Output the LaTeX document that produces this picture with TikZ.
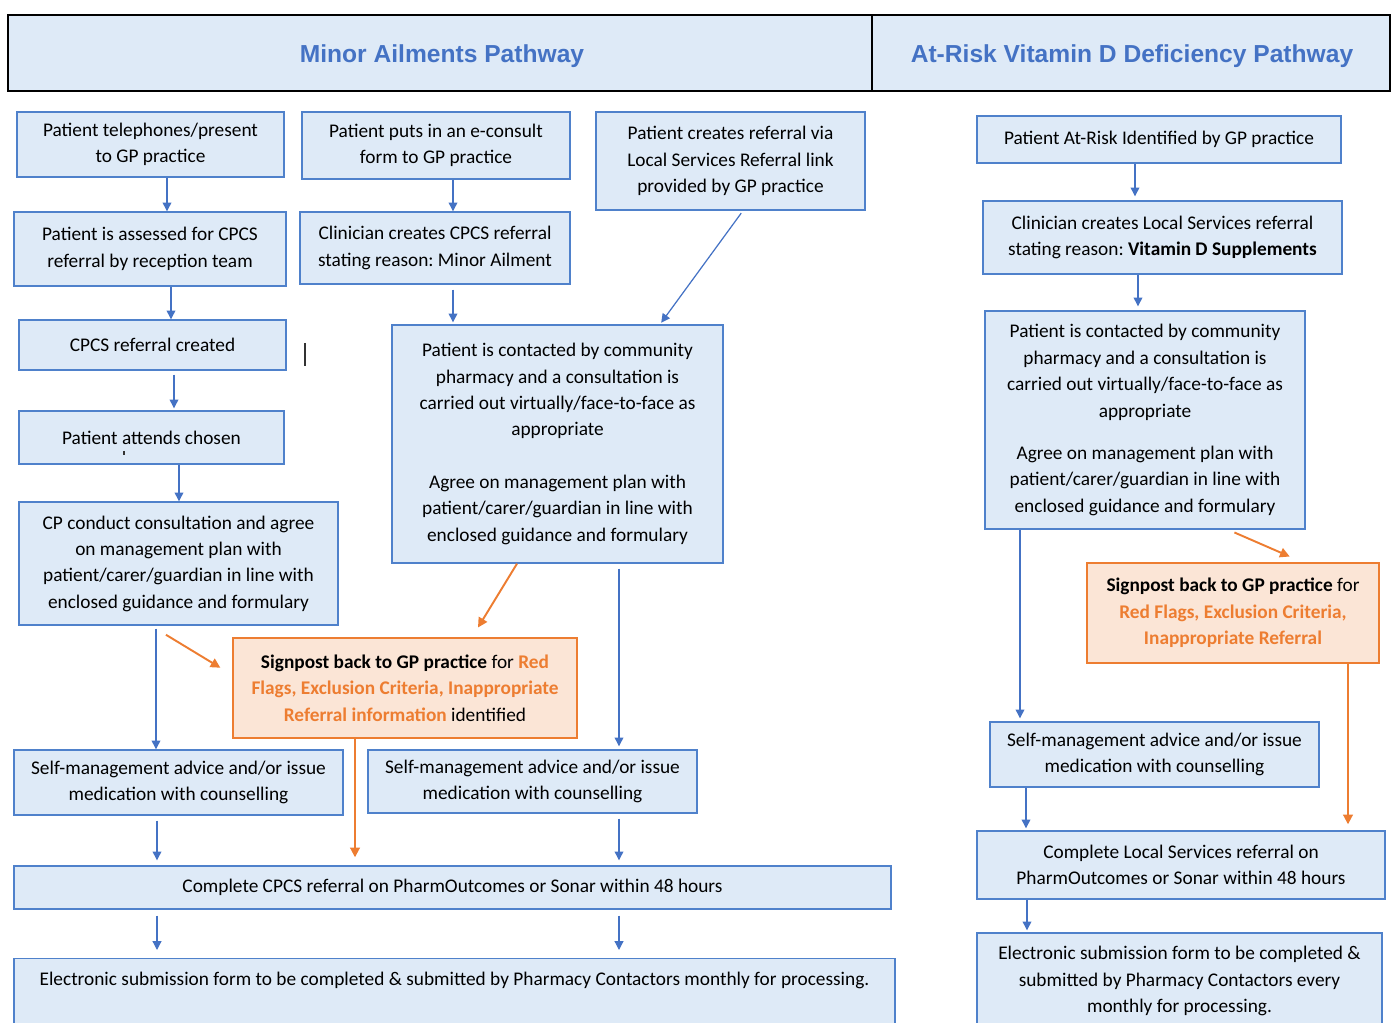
\documentclass[tikz,border=0pt]{standalone}
\usepackage{fontspec}
\setmainfont{Carlito}
\newfontfamily\titlefont{Liberation Sans}
\usetikzlibrary{arrows.meta}
\frenchspacing
\definecolor{boxfill}{RGB}{222,234,247}
\definecolor{boxline}{RGB}{79,129,203}
\definecolor{arrblue}{RGB}{68,114,196}
\definecolor{titleblue}{RGB}{68,114,196}
\definecolor{orfill}{RGB}{251,229,214}
\definecolor{orline}{RGB}{237,125,49}
\tikzset{
    head/.style ={rectangle, draw=black, fill=boxfill, line width=1.1pt, minimum height=1.52cm,
                  font=\titlefont\bfseries\fontsize{14}{16}\selectfont, text=titleblue},
    box/.style ={rectangle, draw=boxline, fill=boxfill, line width=0.8pt, align=center, inner sep=0pt,
                 font=\fontsize{11}{15}\selectfont},
    obox/.style ={box, draw=orline, fill=orfill},
    arr/.style ={draw=arrblue, line width=0.7pt, -{Triangle[width=5pt,length=5pt]}},
    gaparr/.style ={arr, shorten <=0.1cm, shorten >=0.1cm},
    oarr/.style ={draw=orline, line width=1.1pt, -{Triangle[width=5.5pt,length=5.5pt]}}
}
\newcommand{\ort}[1]{\textcolor{orline}{\textbf{#1}}}

\begin{document}
\begin{tikzpicture}[x=0.02cm,y=-0.02cm]
    \useasboundingbox (0,0) rectangle (1394,1023);
    % headers
    \node[head, minimum width=17.28cm] (HL) at (440,53) {};
    \node[head, minimum width=10.36cm] (HR) at (1131,53) {};
    \node[font=\titlefont\bfseries\fontsize{14}{16}\selectfont, text=titleblue] (TL) at (442,56) {Minor Ailments Pathway};
    \node[font=\titlefont\bfseries\fontsize{14}{16}\selectfont, text=titleblue] (TR) at (1132,56) {At-Risk Vitamin D Deficiency Pathway};
    % minor ailments: reception route
    \node[box, minimum width=5.34cm, minimum height=1.30cm] (A1) at (150.5,144.5) {Patient telephones/present\\to GP practice};
    \node[box, minimum width=5.44cm, minimum height=1.48cm] (A2) at (150,249) {Patient is assessed for CPCS\\referral by reception team};
    \node[box, minimum width=5.34cm, minimum height=1.00cm] (A3) at (152.5,345) {CPCS referral created};
    \node[box, minimum width=5.30cm, minimum height=1.06cm] (A4) at (151.5,437.5) {Patient attends chosen};
    \node[box, minimum width=6.38cm, minimum height=2.46cm] (A5) at (178.5,563.5) {CP conduct consultation and agree\\on management plan with\\patient/carer/guardian in line with\\enclosed guidance and formulary};
    % e-consult and local services route
    \node[box, minimum width=5.36cm, minimum height=1.34cm] (B1) at (436,145.5) {Patient puts in an e-consult\\form to GP practice};
    \node[box, minimum width=5.40cm, minimum height=1.44cm] (B2) at (435,248) {Clinician creates CPCS referral\\stating reason: Minor Ailment};
    \node[box, minimum width=5.38cm, minimum height=1.96cm] (C1) at (730.5,161) {Patient creates referral via\\Local Services Referral link\\provided by GP practice};
    \node[box, minimum width=6.62cm, minimum height=4.76cm] (M) at (557.5,444) {Patient is contacted by community\\pharmacy and a consultation is\\carried out virtually/face-to-face as\\appropriate\\[15pt]Agree on management plan with\\patient/carer/guardian in line with\\enclosed guidance and formulary};
    \node[obox, minimum width=6.88cm, minimum height=2.00cm] (S1) at (405,688) {\textbf{Signpost back to GP practice} for \ort{Red}\\\ort{Flags, Exclusion Criteria, Inappropriate}\\\ort{Referral information} identified};
    \node[box, minimum width=6.58cm, minimum height=1.30cm] (SM1) at (178.5,782.5) {Self-management advice and/or issue\\medication with counselling};
    \node[box, minimum width=6.58cm, minimum height=1.26cm] (SM2) at (532.5,781.5) {Self-management advice and/or issue\\medication with counselling};
    \node[box, minimum width=17.54cm, minimum height=0.86cm] (CC) at (452.5,887.5) {Complete CPCS referral on PharmOutcomes or Sonar within 48 hours};
    \node[box, minimum width=17.62cm, anchor=north, text height=0.54cm, text depth=1.5cm] (ES) at (454.5,958) {Electronic submission form to be completed \& submitted by Pharmacy Contactors monthly for processing.};
    % vitamin D pathway
    \node[box, minimum width=7.28cm, minimum height=0.94cm] (R1) at (1159,139.5) {Patient At-Risk Identified by GP practice};
    \node[box, minimum width=7.18cm, minimum height=1.46cm] (R2) at (1162.5,237.5) {Clinician creates Local Services referral\\stating reason: \textbf{Vitamin D Supplements}};
    \node[box, minimum width=6.40cm, minimum height=4.36cm] (R3) at (1145,420) {Patient is contacted by community\\pharmacy and a consultation is\\carried out virtually/face-to-face as\\appropriate\\[0.32cm]Agree on management plan with\\patient/carer/guardian in line with\\enclosed guidance and formulary};
    \node[obox, minimum width=5.84cm, minimum height=2.00cm] (R4) at (1233,613) {\textbf{Signpost back to GP practice} for\\\ort{Red Flags, Exclusion Criteria,}\\\ort{Inappropriate Referral}};
    \node[box, minimum width=6.58cm, minimum height=1.30cm] (R5) at (1154.5,754.5) {Self-management advice and/or issue\\medication with counselling};
    \node[box, minimum width=8.16cm, minimum height=1.36cm] (R6) at (1181,865) {Complete Local Services referral on\\PharmOutcomes or Sonar within 48 hours};
    \node[box, minimum width=8.10cm, minimum height=1.92cm] (R7) at (1179.5,981) {Electronic submission form to be completed \&\\submitted by Pharmacy Contactors every\\monthly for processing.};
    % stray marks
    \draw[black!80, line width=0.9pt] (305,343) -- (305,366);
    \draw[black!80, line width=0.6pt] (124,451) -- (124,455);
    % arrows left
    \draw[arr] (A1.south -| 167,0) -- (A2.north -| 167,0);
    \draw[arr] (A2.south -| 171,0) -- (A3.north -| 171,0);
    \draw[arr, shorten <=0.08cm, shorten >=0.04cm] (A3.south -| 174,0) -- (A4.north -| 174,0);
    \draw[arr] (A4.south -| 179,0) -- (A5.north -| 179,0);
    \draw[arr] (B1.south -| 453,0) -- (B2.north -| 453,0);
    \draw[arr, shorten <=0.1cm, shorten >=0.04cm] (B2.south -| 453,0) -- (M.north -| 453,0);
    \draw[arr, shorten <=0.06cm, shorten >=0.04cm] (C1.south -| 743,0) -- (M.north -| 660,0);
    \draw[arr, shorten <=0.06cm] (A5.south -| 156,0) -- (SM1.north -| 156,0);
    \draw[oarr, shorten <=0.35cm, shorten >=0.28cm] (A5.south -| 151,0) -- (S1.west |- 0,675);
    \draw[oarr, shorten >=0.23cm] (M.south -| 517,0) -- (S1.north -| 472,0);
    \draw[arr, shorten <=0.1cm, shorten >=0.06cm] (M.south -| 619,0) -- (SM2.north -| 619,0);
    \draw[gaparr] (SM1.south -| 157,0) -- (CC.north -| 157,0);
    \draw[oarr, shorten >=0.16cm] (S1.south -| 355,0) -- (CC.north -| 355,0);
    \draw[gaparr] (SM2.south -| 619,0) -- (CC.north -| 619,0);
    \draw[gaparr, shorten <=0.12cm, shorten >=0.16cm] (CC.south -| 157,0) -- (ES.north -| 157,0);
    \draw[gaparr, shorten <=0.12cm, shorten >=0.16cm] (CC.south -| 619,0) -- (ES.north -| 619,0);
    % arrows right
    \draw[arr, shorten >=0.08cm] (R1.south -| 1135,0) -- (R2.north -| 1135,0);
    \draw[arr, shorten >=0.08cm] (R2.south -| 1138,0) -- (R3.north -| 1138,0);
    \draw[oarr, shorten <=0.14cm, shorten >=0.29cm] (R3.south -| 1228,0) -- (R4.north -| 1303,0);
    \draw[arr, shorten >=0.06cm] (R3.south -| 1020,0) -- (R5.north -| 1020,0);
    \draw[oarr, shorten >=0.12cm] (R4.south -| 1348,0) -- (R6.north -| 1348,0);
    \draw[arr, shorten >=0.04cm] (R5.south -| 1026,0) -- (R6.north -| 1026,0);
    \draw[arr, shorten >=0.04cm] (R6.south -| 1027,0) -- (R7.north -| 1027,0);
\end{tikzpicture}
\end{document}
